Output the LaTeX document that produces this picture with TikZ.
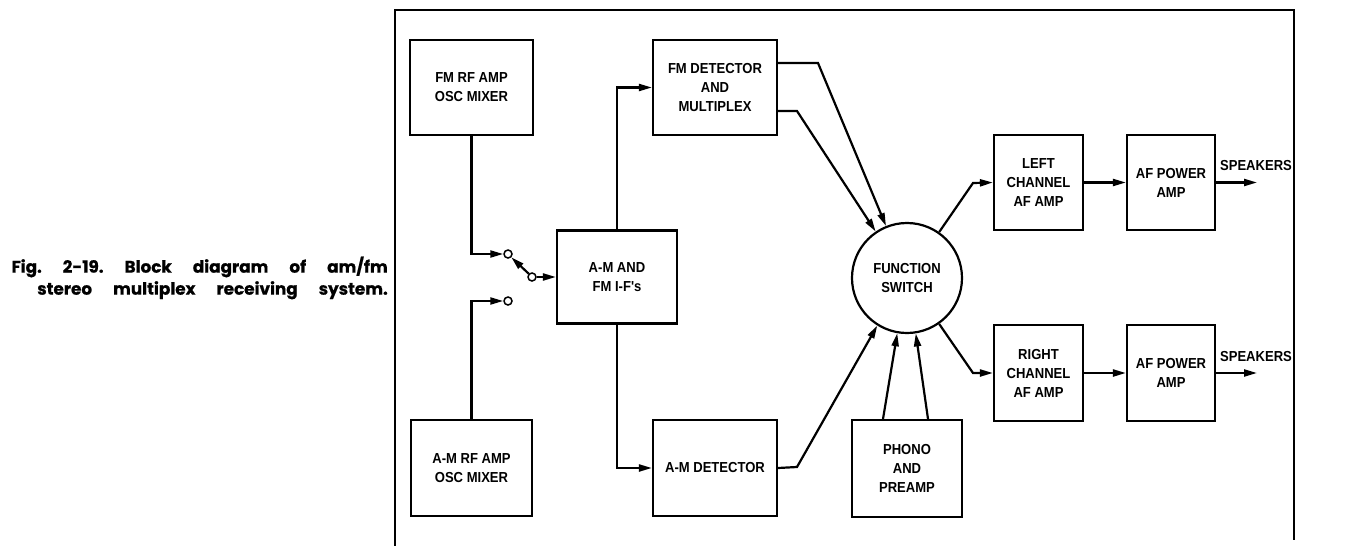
\documentclass[tikz,border=0pt]{standalone}
\usepackage{fontspec}
\usetikzlibrary{arrows.meta,calc}
\newfontfamily\boxfont[FakeStretch=0.9]{Liberation Sans}
\newfontfamily\capfont[BoldFeatures={FakeBold=0.8}]{Poppins}
\newcommand\capsp{\hspace*{21pt}}
\begin{document}
\begin{tikzpicture}[x=1pt,y=-1pt,
  blk/.style={draw,line width=2.2pt,inner sep=0pt,align=center,
    font=\boxfont\bfseries\fontsize{14.5}{19}\selectfont},
  conn/.style={line width=2.2pt},
  arr/.style={conn,-{Triangle[length=13pt,width=7pt]}},
  contact/.style={circle,draw,line width=1.5pt,fill=white,minimum size=8pt,inner sep=0pt},
  lbl/.style={font=\boxfont\bfseries\fontsize{14.5}{19}\selectfont,inner sep=0pt}]
\useasboundingbox (0,0) rectangle (1355,546);
% frame
\draw[line width=2.8pt] (395,546) -- (395,10) -- (1294,10) -- (1294,540);
% caption
\node[anchor=east,font=\capfont\bfseries\fontsize{16.8}{22}\selectfont,align=right,inner sep=0pt] (cap) at (388,278)
  {Fig.\capsp 2-19.\capsp Block\capsp diagram\capsp of\capsp am/fm\\stereo\capsp multiplex\capsp receiving\capsp system.};
% blocks
\node[blk,minimum width=123pt,minimum height=95pt] (fmrf) at (471.5,87.5) {FM RF AMP\\OSC MIXER};
\node[blk,minimum width=124pt,minimum height=95pt] (fmdet) at (715,87.5) {FM DETECTOR\\AND\\MULTIPLEX};
\node[blk,minimum width=120pt,minimum height=93pt] (if) at (617,277) {A-M AND\\FM I-F's};
\node[blk,minimum width=121pt,minimum height=96pt] (amrf) at (471.5,468) {A-M RF AMP\\OSC MIXER};
\node[blk,minimum width=124pt,minimum height=96pt] (amdet) at (715,468) {A-M DETECTOR};
\node[blk,circle,minimum size=110pt] (fs) at (907,278) {FUNCTION\\SWITCH};
\node[blk,minimum width=110pt,minimum height=97pt] (phono) at (907,468.5) {PHONO\\AND\\PREAMP};
\node[blk,minimum width=89pt,minimum height=95pt] (left) at (1038.5,182.5) {LEFT\\CHANNEL\\AF AMP};
\node[blk,minimum width=88pt,minimum height=95pt] (afp1) at (1171,182.5) {AF POWER\\AMP};
\node[blk,minimum width=89pt,minimum height=96pt] (right) at (1038.5,373) {RIGHT\\CHANNEL\\AF AMP};
\node[blk,minimum width=88pt,minimum height=96pt] (afp2) at (1171,373) {AF POWER\\AMP};
% switch contacts
\node[contact] (c1) at (508,254) {};
\node[contact] (c2) at (532,277) {};
\node[contact] (c3) at (508,301) {};
% coordinates
\coordinate (b1) at (818,63);
\coordinate (b2) at (797,111);
\coordinate (b3) at (797,467);
\coordinate (bl) at (973,183);
\coordinate (br) at (973,373);
\coordinate (sp1) at (1257,182.5);
\coordinate (sp2) at (1257,373);
% connectors
\draw[arr] (fmrf.south) |- (c1.west);
\draw[arr] (amrf.north) |- (c3.west);
\draw[arr] (c2.north west) -- (c1.south east);
\draw[arr] (c2.east) -- (if.west);
\draw[arr] (if.north) |- (fmdet.west);
\draw[arr] (if.south) |- (amdet.west);
\draw[arr] ([yshift=24.5pt]fmdet.east) -- (b1) -- (fs.112);
\draw[arr] ([yshift=-23.5pt]fmdet.east) -- (b2) -- (fs.124);
\draw[arr] (amdet.east) -- (b3) -- (fs.238);
\draw[arr] ([xshift=-24pt]phono.north) -- (fs.260);
\draw[arr] ([xshift=21pt]phono.north) -- (fs.279);
\draw[arr] (fs.55) -- (bl) -- (left.west);
\draw[arr] (fs.305) -- (br) -- (right.west);
\draw[arr] (left.east) -- (afp1.west);
\draw[arr] (right.east) -- (afp2.west);
\draw[arr] (afp1.east) -- (sp1);
\draw[arr] (afp2.east) -- (sp2);
\node[lbl] (s1) at (1256,166) {SPEAKERS};
\node[lbl] (s2) at (1256,357) {SPEAKERS};
\end{tikzpicture}
\end{document}
